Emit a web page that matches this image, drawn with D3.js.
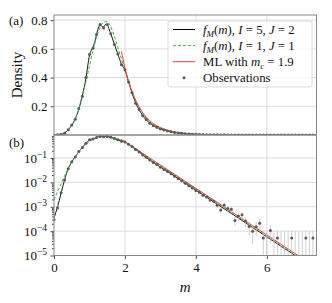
<!DOCTYPE html>
<html>
<head>
<meta charset="utf-8">
<script src="https://cdn.jsdelivr.net/npm/d3@7"></script>
<style>
  body { margin: 0; background: #fff; }
  svg { display: block; font-family: "Liberation Serif", "DejaVu Serif", serif; }
</style>
</head>
<body>
<div id="chart"></div>
<script>
// --- data -------------------------------------------------------------

// observations (histogram bins, width 0.1)
const obsM = [0.0,0.1,0.2,0.3,0.4,0.5,0.6,0.7,0.8,0.9,1.0,1.1,1.2,1.3,1.4,1.5,1.6,1.7,1.8,1.9,
  2.0,2.1,2.2,2.3,2.4,2.5,2.6,2.7,2.8,2.9,3.0,3.1,3.2,3.3,3.4,3.5,3.6,3.7,3.8,3.9,
  4.0,4.1,4.2,4.3,4.4,4.5,4.6,4.7,4.8,4.9,5.0,5.1,5.2,5.3,5.4,5.5,5.6,5.7,5.8,5.9,
  6.0,6.1,6.2,6.3,6.4,6.5,6.6,6.7,6.8,6.9,7.0,7.1,7.2,7.3];
const obsD = [3.0e-4,9e-4,3.8e-3,0.0125,0.036,0.07,0.11,0.185,0.27,0.40,0.56,0.605,0.70,0.77,0.745,0.77,0.705,0.63,0.565,0.49,
  0.455,0.37,0.295,0.222,0.178,0.134,0.108,0.082,0.065,0.054,0.042,0.034,0.028,0.0225,0.0178,0.0142,0.0118,0.0092,0.0072,0.0059,
  0.0047,0.0039,0.0030,0.0025,0.0019,0.0017,0.00115,7.4e-4,1.17e-3,8.5e-4,7.9e-4,2.7e-4,4.2e-4,4.7e-4,2.6e-4,1.55e-4,1.0e-4,1.5e-4,2.1e-4,5.2e-5,
  0,1.05e-4,0,5.2e-5,0,0,0,5.2e-5,0,0,0,5.2e-5,0,5.2e-5];
// error bar half widths
const obsErr = [1.25e-4,2.2e-4,4.4e-4,8.1e-4,1.37e-3,1.9e-3,2.4e-3,3.1e-3,3.7e-3,4.6e-3,5.4e-3,5.6e-3,6.0e-3,6.3e-3,6.2e-3,6.3e-3,6.1e-3,5.7e-3,5.4e-3,5.0e-3,
  4.9e-3,4.4e-3,3.9e-3,3.4e-3,3.0e-3,2.6e-3,2.4e-3,2.1e-3,1.8e-3,1.7e-3,1.5e-3,1.33e-3,1.2e-3,1.08e-3,9.6e-4,8.6e-4,7.8e-4,6.9e-4,6.1e-4,5.5e-4,
  4.9e-4,4.5e-4,3.9e-4,3.6e-4,3.1e-4,3.0e-4,2.45e-4,1.96e-4,2.47e-4,2.1e-4,2.03e-4,1.18e-4,1.48e-4,1.56e-4,1.16e-4,9.0e-5,7.2e-5,8.8e-5,1.05e-4,5.2e-5,
  1.0e-4,7.4e-5,1.0e-4,5.2e-5,1.0e-4,1.0e-4,1.0e-4,5.2e-5,1.0e-4,1.0e-4,1.0e-4,5.2e-5,1.0e-4,5.2e-5];

// f_M(m), I = 5, J = 2
const fitM = [0.0,0.1,0.2,0.3,0.4,0.5,0.6,0.7,0.8,0.9,0.95,1.0,1.05,1.1,1.15,1.2,1.25,1.3,1.35,1.4,1.45,1.5,1.55,1.6,1.7,1.8,1.9,
  2.0,2.1,2.2,2.3,2.4,2.5,2.6,2.7,2.8,2.9,3.0,3.2,3.4,3.6,3.8,4.0,4.2,4.4,4.6,4.8,5.0,5.2,5.4,5.6,5.8,6.0,6.2,6.4,6.6,6.8,7.0,7.2,7.4];
const fitD = [3.4e-4,1.0e-3,3.6e-3,0.013,0.036,0.069,0.112,0.182,0.275,0.395,0.48,0.555,0.59,0.61,0.65,0.70,0.745,0.768,0.755,0.752,0.77,0.768,0.74,0.705,0.635,0.563,0.495,
  0.452,0.372,0.293,0.225,0.176,0.136,0.106,0.083,0.066,0.053,0.043,0.028,0.018,0.0116,0.0074,0.0048,0.0031,0.0020,0.00128,8.2e-4,5.3e-4,3.4e-4,2.2e-4,1.4e-4,9.1e-5,5.8e-5,3.75e-5,2.4e-5,1.55e-5,1.0e-5,6.4e-6,4.1e-6,2.6e-6];

// f_M(m), I = 1, J = 1
const simpleM = [0.0,0.1,0.2,0.3,0.4,0.5,0.6,0.7,0.8,0.9,1.0,1.1,1.2,1.3,1.4,1.5,1.6,1.7,1.8,1.9,
  2.0,2.1,2.2,2.3,2.4,2.5,2.6,2.7,2.8,2.9,3.0,3.2,3.4,3.6,3.8,4.0,4.2,4.4,4.6,4.8,5.0,5.2,5.4,5.6,5.8,6.0,6.2,6.4,6.6,6.8,7.0,7.2,7.4];
const simpleD = [1.9e-3,4.2e-3,9e-3,0.019,0.037,0.068,0.115,0.18,0.27,0.37,0.48,0.59,0.68,0.75,0.785,0.79,0.755,0.69,0.61,0.53,
  0.45,0.375,0.305,0.245,0.195,0.15,0.115,0.09,0.073,0.059,0.0475,0.0306,0.0197,0.0127,0.0082,0.0052,0.0034,0.0022,0.0014,9.0e-4,5.8e-4,3.7e-4,2.4e-4,1.55e-4,9.9e-5,6.4e-5,4.1e-5,2.65e-5,1.7e-5,1.1e-5,7.1e-6,4.6e-6,2.9e-6];

// ML with m_c = 1.9
const mlM = [1.9,2.0,2.1,2.2,2.3,2.4,2.5,2.6,2.7,2.8,2.9,3.0,3.2,3.4,3.6,3.8,4.0,4.2,4.6,5.0,5.4,5.8,6.2,6.6,7.0,7.4];
const mlD = [0.583,0.468,0.375,0.301,0.241,0.194,0.1555,0.125,0.100,0.0803,0.0644,0.0517,0.0333,0.0214,0.01377,0.00886,0.0057,0.00367,0.00152,6.3e-4,2.6e-4,1.08e-4,4.47e-5,1.85e-5,7.7e-6,3.2e-6];

const xTicks = [0, 2, 4, 6];
const yTicksA = [0.2, 0.4, 0.6, 0.8];
const yTicksB = [1e-5, 1e-4, 1e-3, 1e-2, 1e-1];

// --- layout ------------------------------------------------------------
const W = 332, H = 303;
const L = 54, R = 316.5;
const FONT = '"Liberation Serif", "DejaVu Serif", serif';
const svg = d3.select('#chart').append('svg').attr('width', W).attr('height', H);

const x = d3.scaleLinear().domain([0, 7.4]).range([L, R]);
const yA = d3.scaleLinear().domain([0, 0.836]).range([135, 15]);
const yB = d3.scaleLog().domain([1e-5, 0.88]).range([255.5, 135]);

const colBlack = '#000', colGreen = '#3cb83c', colRed = '#f03c3c';

function panel(id, y, yGrid){
  const [y0, y1] = y.range();
  const g = svg.append('g');
  svg.append('clipPath').attr('id', id).append('rect')
    .attr('x', L).attr('y', y1).attr('width', R - L).attr('height', y0 - y1);
  // grid
  g.selectAll('line.gx').data(xTicks.slice(1)).join('line')
    .attr('x1', d => x(d)).attr('x2', d => x(d)).attr('y1', y1).attr('y2', y0)
    .attr('stroke', '#dcdcdc').attr('stroke-width', 1);
  g.selectAll('line.gy').data(yGrid).join('line')
    .attr('x1', L).attr('x2', R).attr('y1', d => y(d)).attr('y2', d => y(d))
    .attr('stroke', '#dcdcdc').attr('stroke-width', 1);
  const plot = g.append('g').attr('clip-path', `url(#${id})`);
  return {g, plot, y};
}

function drawData(p, isLog){
  const y = p.y;
  const ok = d => !isLog || d > 0;
  const line = (ms, ds) => d3.line()
    .defined(i => ok(ds[i]))
    .x(i => x(ms[i])).y(i => y(Math.max(ds[i], isLog ? 1e-7 : 0)))
    .curve(d3.curveMonotoneX)(d3.range(ms.length));

  p.plot.append('path').attr('d', line(fitM, fitD))
    .attr('fill', 'none').attr('stroke', colBlack).attr('stroke-width', 0.9);
  p.plot.append('path').attr('d', line(simpleM, simpleD))
    .attr('fill', 'none').attr('stroke', colGreen).attr('stroke-width', 1)
    .attr('stroke-dasharray', '3.2,1.8');
  p.plot.append('path').attr('d', line(mlM, mlD))
    .attr('fill', 'none').attr('stroke', colRed).attr('stroke-width', 1);

  // error bars
  const yBottom = y.range()[0] + 5;
  p.plot.selectAll('line.err').data(d3.range(obsM.length)).join('line')
    .attr('x1', i => x(obsM[i])).attr('x2', i => x(obsM[i]))
    .attr('y1', i => { const lo = obsD[i] - obsErr[i]; return (isLog && lo <= 0) ? yBottom : y(Math.max(lo, 0)); })
    .attr('y2', i => y(obsD[i] + obsErr[i]))
    .attr('stroke', '#c4c4c4').attr('stroke-width', 0.8);
  // points
  p.plot.selectAll('circle.obs').data(d3.range(obsM.length).filter(i => ok(obsD[i]))).join('circle')
    .attr('cx', i => x(obsM[i])).attr('cy', i => y(obsD[i])).attr('r', 1.5)
    .attr('fill', '#5a5a5a');
}

const pa = panel('clipA', yA, yTicksA);
const pb = panel('clipB', yB, yTicksB.slice(1));
drawData(pa, false);
drawData(pb, true);

// --- axes ----------------------------------------------------------------
const tickCol = '#222';
function styleAxis(sel){
  sel.attr('font-family', FONT);
  sel.select('.domain').remove();
  sel.selectAll('.tick line').attr('stroke', tickCol).attr('stroke-width', 0.8);
  sel.selectAll('.tick text').attr('fill', '#111').style('font-size', '13px');
}

svg.append('g').attr('transform', `translate(${L},0)`)
  .call(d3.axisLeft(yA).tickValues(yTicksA).tickSize(3.5).tickPadding(3).tickFormat(d3.format('.1f')))
  .call(styleAxis);

// log axis: minor + major ticks, labels as 10^k
const minors = yB.ticks().filter(v => Math.abs(Math.log10(v) - Math.round(Math.log10(v))) > 1e-6);
svg.append('g').attr('transform', `translate(${L},0)`)
  .call(d3.axisLeft(yB).tickValues(minors).tickSize(2).tickFormat(''))
  .call(styleAxis);
const axB = svg.append('g').attr('transform', `translate(${L},0)`)
  .call(d3.axisLeft(yB).tickValues(yTicksB).tickSize(3.5).tickPadding(3).tickFormat(''))
  .call(styleAxis);
axB.selectAll('.tick').append('text')
  .attr('x', -7).attr('dy', '0.32em').attr('text-anchor', 'end').attr('fill', '#111')
  .style('font-size', '13px').style('font-family', FONT)
  .each(function(d){
    const t = d3.select(this);
    t.append('tspan').text('10');
    t.append('tspan').attr('dy', -5).style('font-size', '9.5px').text('\u2212' + Math.round(-Math.log10(d)));
  });

svg.append('g').attr('transform', `translate(0,${yB.range()[0]})`)
  .call(d3.axisBottom(x).tickValues(xTicks).tickSize(3.5).tickPadding(4).tickFormat(d3.format('d')))
  .call(styleAxis);

// frames
[yA, yB].forEach(y => {
  const [y0, y1] = y.range();
  svg.append('rect').attr('x', L).attr('y', y1).attr('width', R - L).attr('height', y0 - y1)
    .attr('fill', 'none').attr('stroke', '#888').attr('stroke-width', 1);
});

// labels
svg.append('text').attr('transform', 'translate(22,75) rotate(-90)')
  .attr('text-anchor', 'middle').style('font-size', '15px').attr('fill', '#111').text('Density');
svg.append('text').attr('x', (L + R) / 2).attr('y', 292).attr('text-anchor', 'middle')
  .style('font-size', '15px').style('font-style', 'italic').attr('fill', '#111').text('m');
svg.append('text').attr('x', 9).attr('y', 25).style('font-size', '13px').attr('fill', '#111').text('(a)');
svg.append('text').attr('x', 9).attr('y', 147).style('font-size', '13px').attr('fill', '#111').text('(b)');

// --- legend ----------------------------------------------------------------
const leg = svg.append('g');
leg.append('rect').attr('x', 168).attr('y', 21).attr('width', 144).attr('height', 66).attr('rx', 2)
  .attr('fill', '#fff').attr('fill-opacity', 0.85).attr('stroke', '#d4d4d4').attr('stroke-width', 0.8);

const legendRows = [
  {type: 'line', color: colBlack, dash: null, parts: [['f','i'],['M','sub'],['(',''],['m','i'],['), ',''],['I','i'],[' = 5, ',''],['J','i'],[' = 2','']]},
  {type: 'line', color: colGreen, dash: '3.2,1.8', parts: [['f','i'],['M','sub'],['(',''],['m','i'],['), ',''],['I','i'],[' = 1, ',''],['J','i'],[' = 1','']]},
  {type: 'line', color: colRed, dash: null, parts: [['ML with ',''],['m','i'],['c','sub'],[' = 1.9','']]},
  {type: 'dot', parts: [['Observations','']]}
];
legendRows.forEach((r, k) => {
  const cy = 29.5 + k * 16.1;
  if (r.type === 'line') {
    leg.append('line').attr('x1', 173).attr('x2', 195).attr('y1', cy).attr('y2', cy)
      .attr('stroke', r.color).attr('stroke-width', 1).attr('stroke-dasharray', r.dash);
  } else {
    leg.append('circle').attr('cx', 184).attr('cy', cy).attr('r', 1.5).attr('fill', '#5a5a5a');
  }
  const t = leg.append('text').attr('x', 203).attr('y', cy + 4.3).style('font-size', '12.8px').attr('fill', '#111');
  let shifted = false;
  r.parts.forEach(([s, f]) => {
    const ts = t.append('tspan').text(s).style('white-space', 'pre');
    if (f === 'i') ts.style('font-style', 'italic');
    if (f === 'sub') { ts.attr('dy', 3).style('font-size', '9px').style('font-style', 'italic'); shifted = true; }
    else if (shifted) { ts.attr('dy', -3); shifted = false; }
  });
});
</script>
</body>
</html>
